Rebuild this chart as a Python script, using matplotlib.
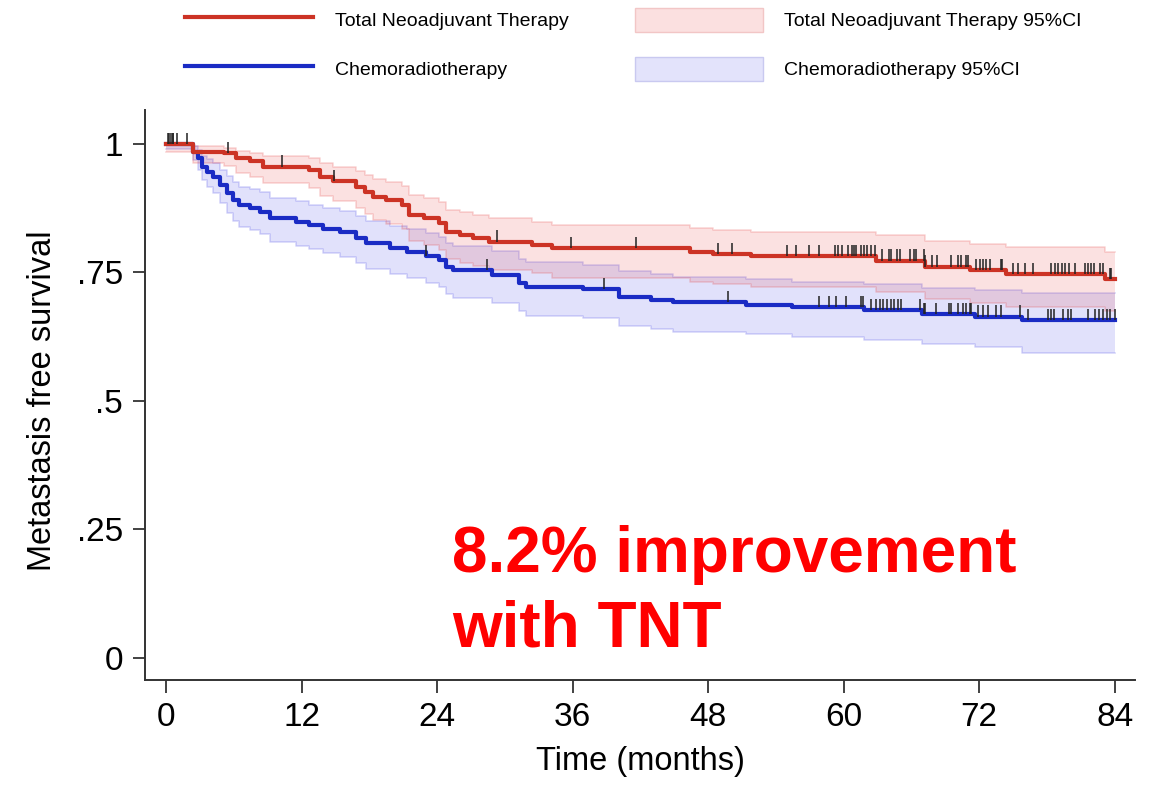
import numpy as np
import matplotlib
matplotlib.use("Agg")
import matplotlib.pyplot as plt
from matplotlib.lines import Line2D
from matplotlib.patches import Patch

plt.rcParams['font.family'] = ['Liberation Sans', 'DejaVu Sans']

# Total Neoadjuvant Therapy (TNT): step times (months), survival, 95% CI
t_tnt = [0, 2.4, 5.1, 6.2, 7.4, 8.6, 12.7, 13.6, 14.8, 16.8, 17.6, 18.3, 19.5, 20.9, 21.5, 22.8,
         24.2, 24.8, 26.0, 27.2, 28.6, 32.4, 34.2, 46.4, 48.4, 51.8, 62.9, 67.2, 71.2, 74.4, 83.1]
s_tnt = [1.0, .985, .982, .972, .966, .956, .949, .936, .927, .917, .907, .897, .891, .881, .862, .855,
         .846, .829, .823, .817, .810, .804, .797, .790, .786, .781, .773, .761, .755, .747, .737]
up_tnt = [1.0, .995, .993, .987, .983, .976, .972, .962, .955, .947, .939, .931, .926, .918, .901, .895,
          .887, .872, .867, .861, .855, .849, .843, .837, .833, .829, .822, .811, .806, .799, .790]
lo_tnt = [.985, .962, .957, .944, .936, .924, .915, .899, .888, .876, .864, .852, .845, .834, .812, .804,
          .794, .776, .769, .762, .754, .748, .740, .732, .727, .721, .712, .698, .691, .682, .675]
cens_tnt = [0.2, 0.4, 0.6, 1.0, 1.9, 5.5, 10.3, 14.9, 29.3, 35.9, 41.6, 48.9, 50.1, 55.0, 55.8, 56.9,
            57.8, 59.2, 59.5, 59.9, 60.4, 60.7, 60.9, 61.1, 61.5, 61.8, 62.1, 62.4, 62.8, 63.4, 64.0,
            64.2, 64.7, 65.0, 65.9, 66.2, 66.4, 67.1, 67.2, 67.8, 68.3, 69.5, 70.1, 70.4, 70.8, 71.0,
            71.7, 72.1, 72.3, 72.6, 73.0, 73.9, 74.0, 75.0, 75.4, 76.1, 76.8, 78.4, 78.7, 79.0, 79.3,
            79.6, 80.0, 80.5, 81.4, 81.6, 81.9, 82.2, 82.7, 83.0, 83.6, 83.7]

# Chemoradiotherapy (CRT)
t_crt = [0, 2.4, 2.8, 3.2, 3.6, 4.2, 4.8, 5.4, 5.9, 6.5, 7.4, 8.3, 9.2, 11.5, 12.7, 13.9, 15.4, 16.8,
         17.7, 19.8, 21.3, 23.0, 24.2, 24.8, 25.4, 28.9, 31.3, 31.9, 36.9, 40.1, 42.9, 44.9, 51.4,
         55.4, 61.8, 66.9, 71.6, 75.8]
s_crt = [1.0, .985, .972, .956, .946, .936, .920, .904, .891, .881, .875, .868, .855, .848, .842, .835,
         .828, .817, .807, .797, .790, .781, .774, .761, .755, .745, .729, .722, .717, .703, .697, .692,
         .687, .682, .676, .669, .664, .657]
up_crt = [1.0, .995, .988, .977, .970, .963, .950, .937, .926, .917, .912, .906, .894, .888, .882, .876,
          .869, .859, .850, .841, .834, .826, .819, .807, .801, .792, .776, .770, .765, .752, .746, .741,
          .737, .732, .727, .720, .716, .710]
lo_crt = [.99, .968, .950, .930, .917, .905, .885, .866, .851, .839, .832, .824, .810, .802, .795, .787,
          .780, .768, .757, .746, .739, .729, .721, .708, .701, .690, .674, .666, .661, .646, .640, .635,
          .630, .624, .618, .610, .605, .593]
cens_crt = [0.3, 0.6, 23.0, 28.4, 38.8, 49.8, 57.8, 58.7, 59.3, 60.2, 61.5, 61.7, 62.4, 62.9, 63.2,
            63.5, 63.8, 64.2, 64.5, 64.8, 65.1, 66.8, 67.1, 67.2, 68.2, 69.3, 69.5, 70.1, 70.6, 70.8,
            71.2, 71.3, 71.9, 72.3, 72.8, 73.5, 73.9, 75.6, 76.3, 78.1, 78.4, 78.6, 79.4, 79.9, 80.1,
            81.6, 82.3, 82.6, 83.0, 83.3, 83.6, 84.0]

t_end = 84
x_ticks = [0, 12, 24, 36, 48, 60, 72, 84]
y_ticks = [0, .25, .5, .75, 1]
y_labels = ['0', '.25', '.5', '.75', '1']

red = '#cc3325'
blue = '#1a2bc4'

fig = plt.figure(figsize=(11.58, 7.85), dpi=100)
ax = fig.add_axes([145/1158, 1 - 680/785, 990/1158, 570/785])


def km(ax, t, s, lo, up, cens, col, band):
    t = np.append(t, t_end)
    s = np.append(s, s[-1])
    lo = np.append(lo, lo[-1])
    up = np.append(up, up[-1])
    ax.fill_between(t, lo, up, step='post', color=band, alpha=0.15, lw=0, zorder=1)
    ax.step(t, up, where='post', color=band, alpha=0.2, lw=1.2, zorder=1)
    ax.step(t, lo, where='post', color=band, alpha=0.2, lw=1.2, zorder=1)
    ax.step(t, s, where='post', color=col, lw=3.0, zorder=3)
    # censored marks sit on the curve
    idx = np.searchsorted(t, cens, side='right') - 1
    sc = s[idx]
    ax.vlines(cens, sc, sc + 0.022, color='#222222', lw=1.1, zorder=4)


km(ax, t_crt, s_crt, lo_crt, up_crt, cens_crt, blue, '#3c3ce6')
km(ax, t_tnt, s_tnt, lo_tnt, up_tnt, cens_tnt, red, '#e63c3c')

ax.set_xlim(-1.86, 85.8)
ax.set_ylim(-0.043, 1.066)
ax.set_xticks(x_ticks)
ax.set_yticks(y_ticks)
ax.set_yticklabels(y_labels)
for sp in ['top', 'right']:
    ax.spines[sp].set_visible(False)
for sp in ['left', 'bottom']:
    ax.spines[sp].set_linewidth(1.4)
    ax.spines[sp].set_color('#333333')
ax.tick_params(direction='out', length=9, width=1.3, color='#333333', labelsize=24, pad=7)

ax.set_xlabel('Time (months)', fontsize=23.5)
ax.set_ylabel('Metastasis free survival', fontsize=23.5)
ax.xaxis.set_label_coords(0.5, -0.115)
ax.yaxis.set_label_coords(-0.088, 0.49)

ax.text(25.3, 0.258, '8.2% improvement\nwith TNT', color='#ff0000', fontsize=46,
        fontweight='bold', ha='left', va='top', linespacing=1.3)

handles = [Line2D([], [], color=red, lw=3.0),
           Line2D([], [], color=blue, lw=3.0),
           Patch(facecolor='#fbe0e0', edgecolor='#f2c6c6', lw=1),
           Patch(facecolor='#e3e3fb', edgecolor='#c9c9f0', lw=1)]
labels = ['Total Neoadjuvant Therapy', 'Chemoradiotherapy',
          'Total Neoadjuvant Therapy 95%CI', 'Chemoradiotherapy 95%CI']
fig.legend(handles, labels, loc='upper left', bbox_to_anchor=(185/1158, 1 - 8/785), ncol=2,
           frameon=False, fontsize=14, handlelength=6.6, handleheight=1.5, handletextpad=1.1,
           columnspacing=3.4, labelspacing=1.3, borderpad=0, borderaxespad=0)

fig.savefig('out.png', dpi=100)
